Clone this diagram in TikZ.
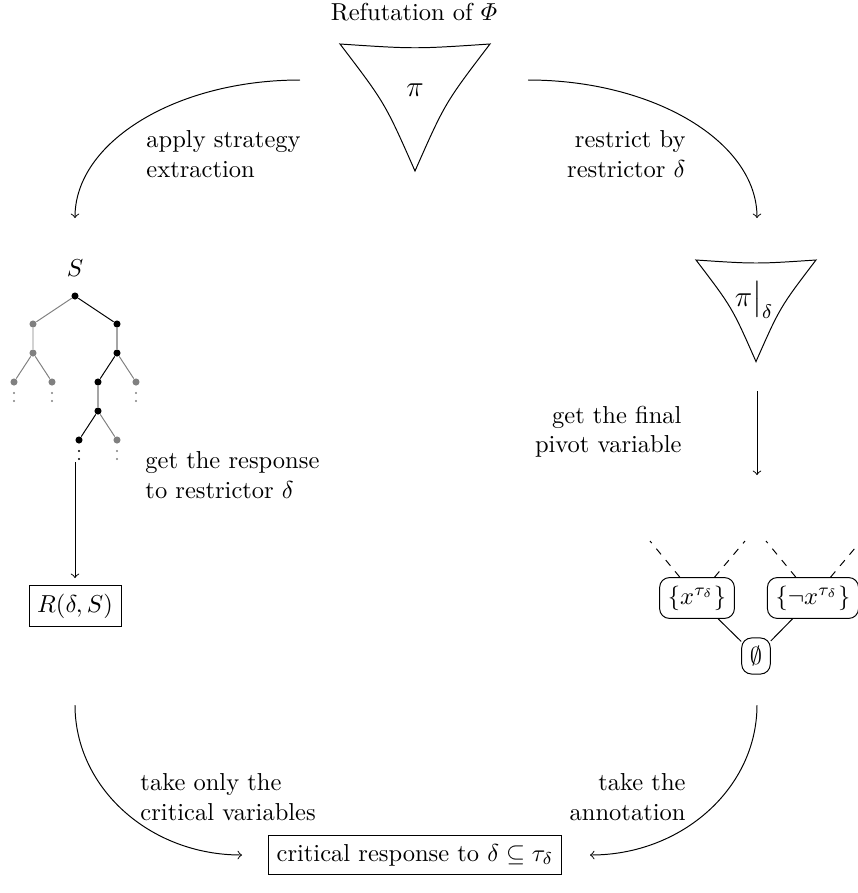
\documentclass[tikz,border=0pt]{standalone}
\usepackage{amsmath,amssymb}
\tikzset{prooftri/.pic={
  \draw (-75,0) .. controls (0,5) .. (75,0) .. controls (30,59) .. (0,127) .. controls (-30,59) .. (-75,0) -- cycle;
}}
\begin{document}
\begin{tikzpicture}[x=0.408pt,y=-0.408pt,
  tblack/.style={shape=circle,fill=black,inner sep=0pt,minimum size=2.9pt},
  tgray/.style={shape=circle,fill=gray,inner sep=0pt,minimum size=2.9pt},
  gedge/.style={draw=gray},
  clause/.style={draw,rounded corners=4pt},
  result/.style={draw},
  lefttext/.style={anchor=west,align=left,inner sep=0pt},
  righttext/.style={anchor=east,align=right,inner sep=0pt}]
\useasboundingbox (0,0) rectangle (858,893);
% the refutation
\node (title) at (414,12) {Refutation of $\varPhi$};
\pic at (415,44) {prooftri};
\node (pi) at (415,90) {\large$\pi$};
\coordinate (extA) at (300,80);
\coordinate (extB) at (75,218);
\draw[->] (extA) .. controls (176,80) and (75,142) .. (extB);
\node[lefttext] (extlbl) at (146,154) {apply strategy\\extraction};
\coordinate (resA) at (528,80);
\coordinate (resB) at (757,218);
\draw[->] (resA) .. controls (654,80) and (757,142) .. (resB);
\node[righttext] (reslbl) at (686,154) {restrict by\\restrictor $\delta$};
% the strategy
\node (S) at (75,268) {$S$};
\node[tblack] (r) at (75,296) {};
\node[tgray] (a) at (33,324) {};
\node[tblack] (b) at (117,324) {};
\node[tgray] (a1) at (33,353) {};
\node[tgray] (a11) at (14,382) {};
\node[tgray] (a12) at (52,382) {};
\node[tblack] (b1) at (117,353) {};
\node[tblack] (b11) at (98,382) {};
\node[tgray] (b12) at (136,382) {};
\node[tblack] (b111) at (98,411) {};
\node[tblack] (b1111) at (79,440) {};
\node[tgray] (b1112) at (117,440) {};
\draw[gedge] (r) -- (a) -- (a1) -- (a11);
\draw[gedge] (a1) -- (a12);
\draw[gedge] (b1) -- (b12);
\draw[gedge] (b111) -- (b1112);
\draw (r) -- (b) -- (b1) -- (b11) -- (b111) -- (b1111);
\foreach \n/\c in {a11/gray,a12/gray,b12/gray,b1111/black,b1112/gray}
  \fill[\c] (\n) ++(0,11) circle[radius=1.1] ++(0,8) circle[radius=1.1];
\coordinate (rspA) at (75,462);
\coordinate (rspB) at (75,578);
\draw[->] (rspA) -- (rspB);
\node[lefttext] (rsplbl) at (145,475) {get the response\\to restrictor $\delta$};
\node[result] (R) at (75,606) {$R(\delta,S)$};
% the restricted refutation
\pic[scale=0.8] at (756,260) {prooftri};
\node[inner sep=0pt] (pid) at (754,300) {\large$\pi\big|_\delta$};
\coordinate (pivA) at (757,391);
\coordinate (pivB) at (757,475);
\draw[->] (pivA) -- (pivB);
\node[righttext] (pivlbl) at (682,432) {get the final\\pivot variable};
\node[clause] (xl) at (697,598) {$\{x^{\tau_\delta}\}$};
\node[clause] (xr) at (813,598) {$\{\neg x^{\tau_\delta}\}$};
\node[clause] (empty) at (756,656) {$\emptyset$};
\coordinate (xla) at (650,541);
\coordinate (xlb) at (745,541);
\coordinate (xra) at (766,541);
\coordinate (xrb) at (861,541);
\draw[dashed] (xl) -- (xla);
\draw[dashed] (xl) -- (xlb);
\draw[dashed] (xr) -- (xra);
\draw[dashed] (xr) -- (xrb);
\draw (xl) -- (empty);
\draw (xr) -- (empty);
% the critical response
\node[result] (crit) at (415,855) {critical response to $\delta\subseteq\tau_\delta$};
\coordinate (cvA) at (75,705);
\coordinate (cvB) at (242,855);
\draw[->] (cvA) .. controls (75,788) and (150,855) .. (cvB);
\node[lefttext] (cvlbl) at (140,797) {take only the\\critical variables};
\coordinate (annA) at (757,705);
\coordinate (annB) at (590,855);
\draw[->] (annA) .. controls (757,788) and (682,855) .. (annB);
\node[righttext] (annlbl) at (686,797) {take the\\annotation};
\end{tikzpicture}
\end{document}
